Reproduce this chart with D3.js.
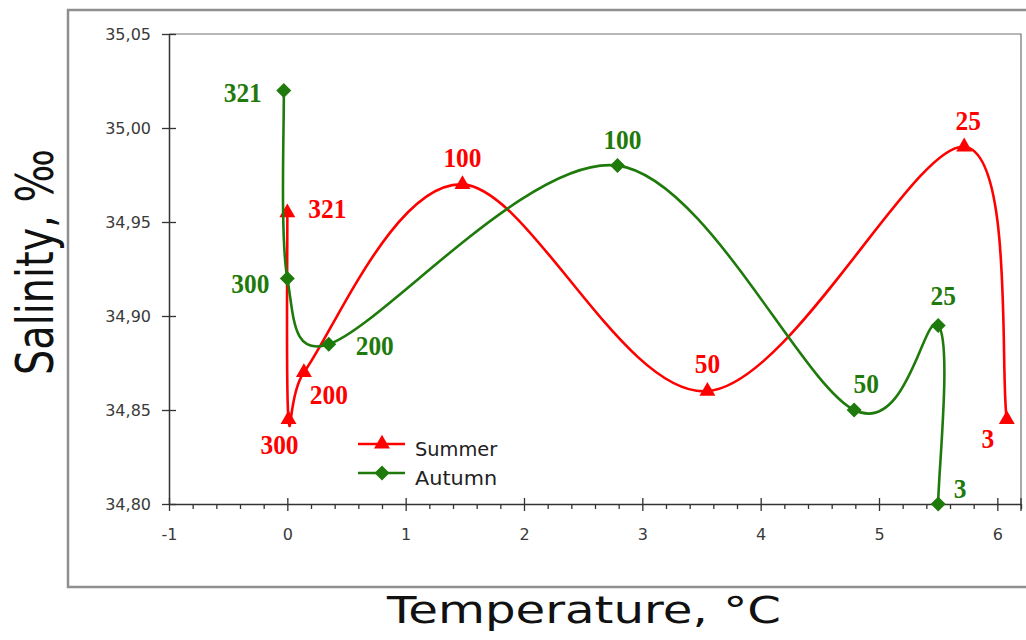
<!DOCTYPE html>
<html>
<head>
<meta charset="utf-8">
<script src="https://cdn.jsdelivr.net/npm/d3@7"></script>
<style>
  body { margin: 0; background: #fff; }
  svg { display: block; }
</style>
</head>
<body>
<svg id="chart" width="1026" height="640"></svg>
<script>
// Sampling depths (m) shown next to each station point
const depthLabels = ["321", "300", "200", "100", "50", "25", "3"];

// Summer profile: temperature (°C) and salinity (‰) by depth
const summerTemperature = [0.00, 0.01, 0.14, 1.48, 3.55, 5.72, 6.08];
const summerSalinity    = [34.955, 34.845, 34.870, 34.970, 34.860, 34.990, 34.845];

// Autumn profile
const autumnTemperature = [-0.03, 0.00, 0.35, 2.79, 4.79, 5.50, 5.50];
const autumnSalinity    = [35.020, 34.920, 34.885, 34.980, 34.850, 34.895, 34.800];

const seriesNames = ["Summer", "Autumn"];
const xTickValues = [-1, 0, 1, 2, 3, 4, 5, 6];
const yTickValues = [34.80, 34.85, 34.90, 34.95, 35.00, 35.05];

// Depth label placement relative to each marker (px)
const summerLabelOffsets = [[40, -4], [-9, 25], [25, 22], [0, -27], [0, -27], [4, -26], [-19, 19]];
const autumnLabelOffsets = [[-41, 2], [-37, 5], [46, 2], [5, -26], [12, -26], [5, -30], [22, -15]];

const RED = "#ff0000";
const GREEN = "#1f7a0c";

const svg = d3.select("#chart");

const locale = d3.formatLocale({ decimal: ",", thousands: " ", grouping: [3], currency: ["", ""], minus: "-" });
const fmtY = locale.format(".2f");
const fmtX = locale.format("d");

const x = d3.scaleLinear().domain([-1, 6.2]).range([169, 1021]);
const y = d3.scaleLinear().domain([34.80, 35.05]).range([504, 34]);

// Spreadsheet-style smoothed line: Bezier segments whose control arms are
// 1/6 of the neighbour chord, limited to half of the segment length.
function smoothCurve(context) {
  let pts;
  const dist = (a, b) => Math.hypot(b[0] - a[0], b[1] - a[1]);
  return {
    areaStart() {}, areaEnd() {},
    lineStart() { pts = []; },
    point(px, py) { pts.push([+px, +py]); },
    lineEnd() {
      const n = pts.length;
      if (!n) return;
      context.moveTo(pts[0][0], pts[0][1]);
      for (let i = 0; i < n - 1; i++) {
        const p0 = pts[Math.max(i - 1, 0)], p1 = pts[i], p2 = pts[i + 1], p3 = pts[Math.min(i + 2, n - 1)];
        const d12 = dist(p1, p2), d02 = dist(p0, p2), d13 = dist(p1, p3);
        let f0 = 1 / 6, f1 = 1 / 6;
        if (!(d02 / 6 < d12 / 2 && d13 / 6 < d12 / 2)) {
          f0 = (d02 > 0 && d02 / 6 >= d12 / 2) ? d12 / 2 / d02 : 1 / 6;
          f1 = (d13 > 0 && d13 / 6 >= d12 / 2) ? d12 / 2 / d13 : 1 / 6;
        }
        context.bezierCurveTo(
          p1[0] + f0 * (p2[0] - p0[0]), p1[1] + f0 * (p2[1] - p0[1]),
          p2[0] - f1 * (p3[0] - p1[0]), p2[1] - f1 * (p3[1] - p1[1]),
          p2[0], p2[1]);
      }
    }
  };
}

// Outer chart frame
svg.append("rect")
  .attr("x", 68).attr("y", 10)
  .attr("width", 990).attr("height", 577)
  .attr("fill", "none").attr("stroke", "#8f8f8f").attr("stroke-width", 2.5);

// Plot area top and right border
svg.append("path")
  .attr("d", `M${x.range()[0]},${y.range()[1]}H${x.range()[1]}V${y.range()[0]}`)
  .attr("fill", "none").attr("stroke", "#707070").attr("stroke-width", 1.2);

// Minor x ticks
const minorTicks = d3.range(-10, 63, 2).map(v => v / 10).filter(v => !Number.isInteger(v));
svg.append("g")
  .attr("transform", `translate(0,${y.range()[0]})`)
  .call(d3.axisBottom(x).tickValues(minorTicks).tickSize(5).tickFormat(""))
  .call(g => g.select(".domain").remove())
  .call(g => g.selectAll("line").attr("stroke", "#333").attr("stroke-width", 1.3));

// X axis
const xAxis = svg.append("g")
  .attr("transform", `translate(0,${y.range()[0]})`)
  .call(d3.axisBottom(x).tickValues(xTickValues).tickFormat(fmtX).tickSizeOuter(0));
xAxis.select(".domain").attr("stroke", "#333").attr("stroke-width", 1.5);
xAxis.selectAll(".tick line").attr("y1", -6).attr("y2", 7).attr("stroke", "#333").attr("stroke-width", 1.3);
xAxis.selectAll(".tick text")
  .attr("y", 25).attr("dy", "0.71em")
  .attr("font-family", "DejaVu Sans").attr("font-size", 16).attr("fill", "#3a3a3a");
// right-end tick at the axis edge
xAxis.append("line")
  .attr("x1", x.range()[1]).attr("x2", x.range()[1]).attr("y1", -6).attr("y2", 7)
  .attr("stroke", "#333").attr("stroke-width", 1.3);

// Y axis
const yAxis = svg.append("g")
  .attr("transform", `translate(${x.range()[0]},0)`)
  .call(d3.axisLeft(y).tickValues(yTickValues).tickFormat(fmtY).tickSizeOuter(0));
yAxis.select(".domain").attr("stroke", "#333").attr("stroke-width", 1.5);
yAxis.selectAll(".tick line").attr("x1", -7).attr("x2", 7).attr("stroke", "#333").attr("stroke-width", 1.3);
yAxis.selectAll(".tick text")
  .attr("x", -18)
  .attr("font-family", "DejaVu Sans").attr("font-size", 16).attr("fill", "#3a3a3a");

// Axis titles
svg.append("text")
  .attr("x", 584).attr("y", 623)
  .attr("text-anchor", "middle")
  .attr("font-family", "DejaVu Sans").attr("font-size", 37).attr("fill", "#111")
  .attr("textLength", 394).attr("lengthAdjust", "spacingAndGlyphs")
  .text("Temperature, °C");

svg.append("text")
  .attr("transform", "translate(53,262) rotate(-90)")
  .attr("text-anchor", "middle")
  .attr("font-family", "DejaVu Sans").attr("font-size", 52).attr("fill", "#111")
  .attr("textLength", 226).attr("lengthAdjust", "spacingAndGlyphs")
  .text("Salinity, ‰");

// Series
const triangle = d3.symbol().type(d3.symbolTriangle).size(110);
const diamond = "M0,-7.5L7.5,0L0,7.5L-7.5,0Z";

const series = [
  { name: seriesNames[0], t: summerTemperature, s: summerSalinity, color: RED, offsets: summerLabelOffsets, marker: triangle() },
  { name: seriesNames[1], t: autumnTemperature, s: autumnSalinity, color: GREEN, offsets: autumnLabelOffsets, marker: diamond }
];

const line = d3.line()
  .x(d => x(d.t)).y(d => y(d.s))
  .curve(smoothCurve);

series.forEach(sr => {
  const pts = sr.t.map((t, i) => ({ t, s: sr.s[i], depth: depthLabels[i], off: sr.offsets[i] }));
  const g = svg.append("g");
  g.append("path")
    .datum(pts)
    .attr("d", line)
    .attr("fill", "none").attr("stroke", sr.color).attr("stroke-width", 2.6)
    .attr("stroke-linejoin", "round");
  g.selectAll("path.marker")
    .data(pts).join("path")
    .attr("class", "marker")
    .attr("d", sr.marker)
    .attr("transform", d => `translate(${x(d.t)},${y(d.s)})`)
    .attr("fill", sr.color);
  g.selectAll("text")
    .data(pts).join("text")
    .attr("x", d => x(d.t) + d.off[0])
    .attr("y", d => y(d.s) + d.off[1])
    .attr("dy", "0.34em")
    .attr("text-anchor", "middle")
    .attr("font-family", "Liberation Serif").attr("font-weight", "bold")
    .attr("font-size", 27).attr("fill", sr.color)
    .attr("textLength", d => d.depth.length * 12.7).attr("lengthAdjust", "spacingAndGlyphs")
    .text(d => d.depth);
});

// Legend
const legend = svg.append("g");
series.forEach((sr, i) => {
  const ly = 444 + i * 29;
  legend.append("line")
    .attr("x1", 358).attr("x2", 405).attr("y1", ly).attr("y2", ly)
    .attr("stroke", sr.color).attr("stroke-width", 2.6);
  legend.append("path")
    .attr("d", sr.marker)
    .attr("transform", `translate(382,${ly})`)
    .attr("fill", sr.color);
  legend.append("text")
    .attr("x", 415).attr("y", ly + 12)
    .attr("font-family", "DejaVu Sans").attr("font-size", 20).attr("fill", "#222")
    .attr("textLength", sr.name.length * 13.7).attr("lengthAdjust", "spacingAndGlyphs")
    .text(sr.name);
});
</script>
</body>
</html>
